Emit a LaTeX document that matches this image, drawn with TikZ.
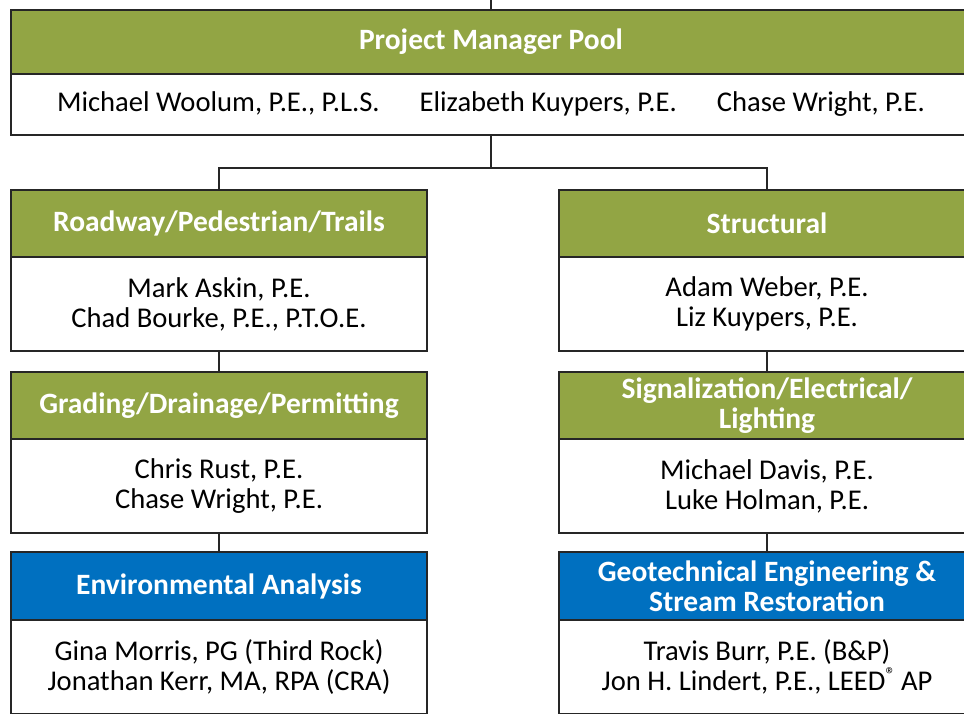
\documentclass[tikz,border=0pt]{standalone}
\usepackage{fontspec}
\setmainfont{Carlito}
\usetikzlibrary{positioning}
\definecolor{olivehead}{RGB}{146,165,68}
\definecolor{bluehead}{RGB}{0,112,192}

\begin{document}
\begin{tikzpicture}[
		x=1pt, y=-1pt,
		box/.style={rectangle, draw=black!85, line width=1.5pt, minimum width=416pt, inner sep=0pt, outer sep=0pt, align=center, font=\fontsize{28.6}{30}\selectfont},
		head/.style={box, fill=olivehead, text=white, font=\fontsize{29.5}{30}\selectfont\bfseries, minimum height=67pt},
		bluebox/.style={head, fill=bluehead, minimum height=68pt},
		body/.style={box, fill=white, minimum height=94pt},
		link/.style={black!85, line width=1.5pt},
		]

	\useasboundingbox (0,0) rectangle (964,713);
	\clip (0,0) rectangle (964,713);

	\node (pmhead) [head, minimum width=960pt, minimum height=64pt] at (491,42) {Project Manager Pool};
	\node (pmbody) [body, minimum width=960pt, minimum height=61pt, below=0pt of pmhead]
		{Michael Woolum, P.E., P.L.S.\hspace{40pt}Elizabeth Kuypers, P.E.\hspace{40pt}Chase Wright, P.E.};

	% left column
	\node (rdhead) [head] at (219,223.5) {Roadway/Pedestrian/Trails};
	\node (rdbody) [body, below=0pt of rdhead] {Mark Askin, P.E.\\Chad Bourke, P.E., P.T.O.E.};
	\node (grhead) [head, below=21pt of rdbody] {Grading/Drainage/Permitting};
	\node (grbody) [body, below=0pt of grhead] {Chris Rust, P.E.\\Chase Wright, P.E.};
	\node (envhead) [bluebox, below=19pt of grbody] {Environmental Analysis};
	\node (envbody) [body, below=0pt of envhead] {Gina Morris, PG (Third Rock)\\Jonathan Kerr, MA, RPA (CRA)};

	% right column
	\node (sthead) [head] at (767,223.5) {Structural};
	\node (stbody) [body, below=0pt of sthead] {Adam Weber, P.E.\\Liz Kuypers, P.E.};
	\node (sghead) [head, below=21pt of stbody] {Signalization/Electrical/\\Lighting};
	\node (sgbody) [body, below=0pt of sghead] {Michael Davis, P.E.\\Luke Holman, P.E.};
	\node (geohead) [bluebox, below=19pt of sgbody] {Geotechnical Engineering \&\\Stream Restoration};
	\node (geobody) [body, below=0pt of geohead] {Travis Burr, P.E. (B\&P)\\Jon H. Lindert, P.E., LEED\textsuperscript{®}\,AP};

	\coordinate (top) at (491,0);
	\draw[link] (top) -- (pmhead.north);
	\draw[link] (pmbody.south) -- ++(0,33) coordinate (split);
	\draw[link] (split) -| (rdhead.north);
	\draw[link] (split) -| (sthead.north);
	\draw[link] (rdbody.south) -- (grhead.north);
	\draw[link] (grbody.south) -- (envhead.north);
	\draw[link] (stbody.south) -- (sghead.north);
	\draw[link] (sgbody.south) -- (geohead.north);
\end{tikzpicture}
\end{document}
